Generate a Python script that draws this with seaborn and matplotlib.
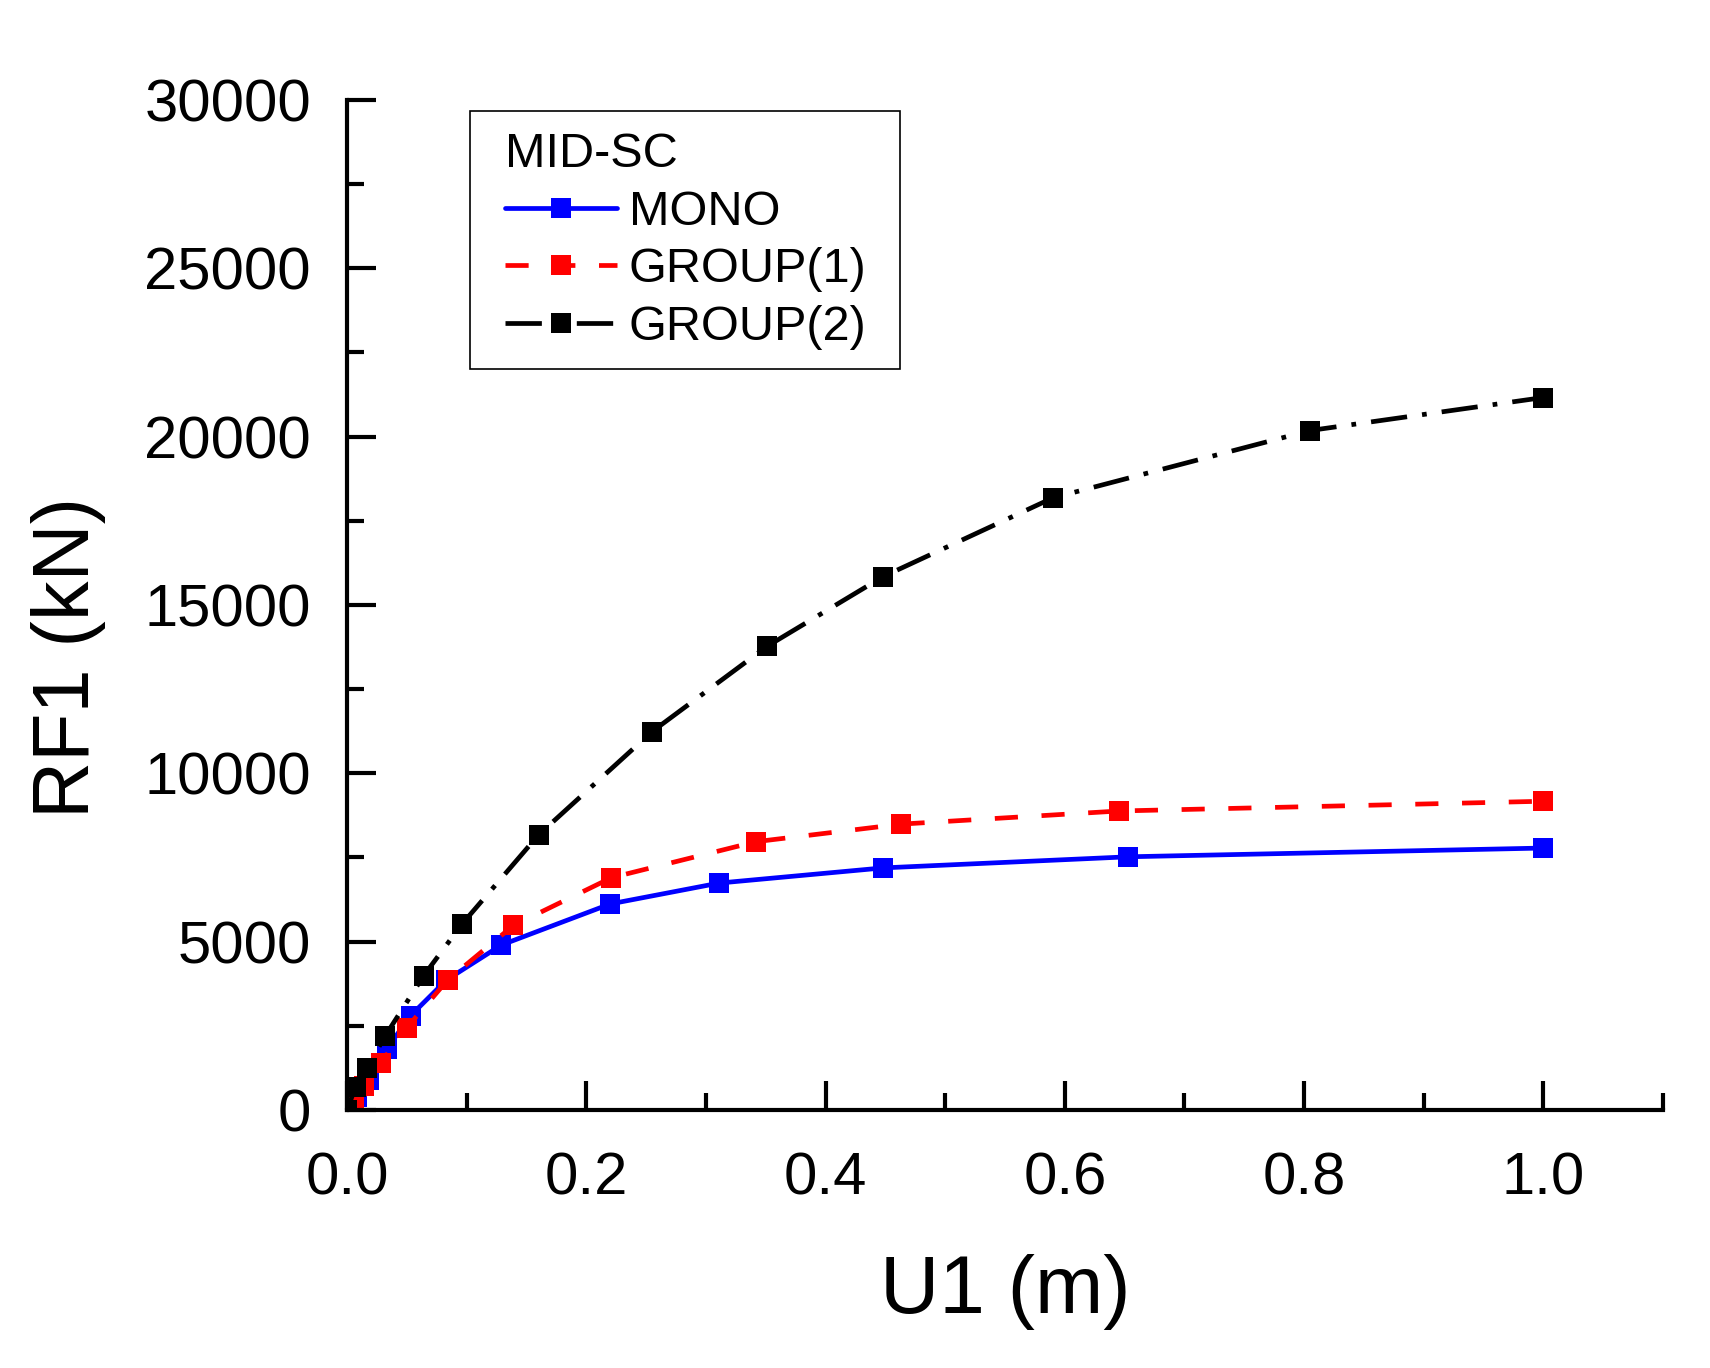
import numpy as np
import pandas as pd
import matplotlib
matplotlib.use("Agg")
import matplotlib.pyplot as plt
from matplotlib.ticker import MultipleLocator
from matplotlib.patches import Rectangle
import seaborn as sns

# ---- data ----
mono_x = [0.0, 0.008, 0.018, 0.033, 0.053, 0.083, 0.129, 0.220, 0.311, 0.448, 0.653, 1.0]
mono_y = [0, 395, 890, 1810, 2800, 3860, 4900, 6120, 6740, 7190, 7520, 7780]

group1_x = [0.0, 0.006, 0.014, 0.028, 0.050, 0.084, 0.139, 0.221, 0.342, 0.463, 0.645, 1.0]
group1_y = [0, 320, 700, 1400, 2450, 3860, 5480, 6900, 7970, 8490, 8880, 9170]

group2_x = [0.0, 0.007, 0.0165, 0.032, 0.064, 0.096, 0.160, 0.255, 0.351, 0.448, 0.590, 0.805, 1.0]
group2_y = [0, 690, 1240, 2210, 3990, 5520, 8170, 11240, 13770, 15840, 18180, 20180, 21160]

series_names = ["MONO", "GROUP(1)", "GROUP(2)"]
legend_title = "MID-SC"
x_label = "U1 (m)"
y_label = "RF1 (kN)"
x_tick_vals = [0, 0.2, 0.4, 0.6, 0.8, 1.0]
x_tick_labels = ["0.0", "0.2", "0.4", "0.6", "0.8", "1.0"]

sns.set_theme(style="ticks")
plt.rcParams['font.family'] = ['Liberation Sans', 'DejaVu Sans']
plt.rcParams['text.color'] = 'black'
plt.rcParams['axes.labelcolor'] = 'black'
plt.rcParams['xtick.color'] = 'black'
plt.rcParams['ytick.color'] = 'black'

fig = plt.figure(figsize=(17.1, 13.68), dpi=100)
ax = fig.add_axes([0.203, 0.1886, 0.7695, 0.7384])

styles = [
    dict(color="#0000ff", linestyle="-"),
    dict(color="#ff0000", linestyle=(0, (4.9, 5.0))),
    dict(color="#000000", linestyle=(0, (7.7, 3.2, 1.0, 3.2))),
]
data = [(mono_x, mono_y), (group1_x, group1_y), (group2_x, group2_y)]

for name, (xs, ys), st in zip(series_names, data, styles):
    df = pd.DataFrame({"x": xs, "y": ys})
    sns.lineplot(data=df, x="x", y="y", ax=ax, sort=False, estimator=None,
                 label=name, marker="s", markersize=15, markeredgewidth=0,
                 linewidth=3.4, color=st["color"], linestyle=st["linestyle"])

ax.set_xlim(0, 1.1)
ax.set_ylim(0, 30000)
ax.xaxis.set_minor_locator(MultipleLocator(0.1))
ax.yaxis.set_major_locator(MultipleLocator(5000))
ax.yaxis.set_minor_locator(MultipleLocator(2500))
ax.set_xticks(x_tick_vals)
ax.set_xticklabels(x_tick_labels)

for s in ["top", "right"]:
    ax.spines[s].set_visible(False)
for s in ["left", "bottom"]:
    ax.spines[s].set_linewidth(3.0)
    ax.spines[s].set_color("black")

ax.tick_params(which="major", direction="in", length=21, width=3.0,
               labelsize=43, colors="black")
ax.tick_params(which="minor", direction="in", length=12, width=3.0)
ax.tick_params(axis="x", which="major", pad=30)
ax.tick_params(axis="y", which="major", pad=26)

ax.set_xlabel(x_label, fontsize=59, labelpad=34)
ax.set_ylabel(y_label, fontsize=57)
ax.yaxis.set_label_coords(-0.183, 0.448)

# legend (frame drawn as a separate rectangle)
leg = ax.legend(title=legend_title, loc="upper left",
                bbox_to_anchor=(0.120, 0.968), fontsize=35, title_fontsize=35,
                frameon=False, handlelength=2.3, handletextpad=0.25,
                labelspacing=0.26, borderpad=0, borderaxespad=0)
leg._legend_box.align = "left"
ax.add_patch(Rectangle((0.0935, 0.7337), 0.3265, 0.2553, transform=ax.transAxes,
                       facecolor="none", edgecolor="black", linewidth=1.2,
                       zorder=5, clip_on=False))

fig.savefig("out.png", dpi=100, facecolor="white")
